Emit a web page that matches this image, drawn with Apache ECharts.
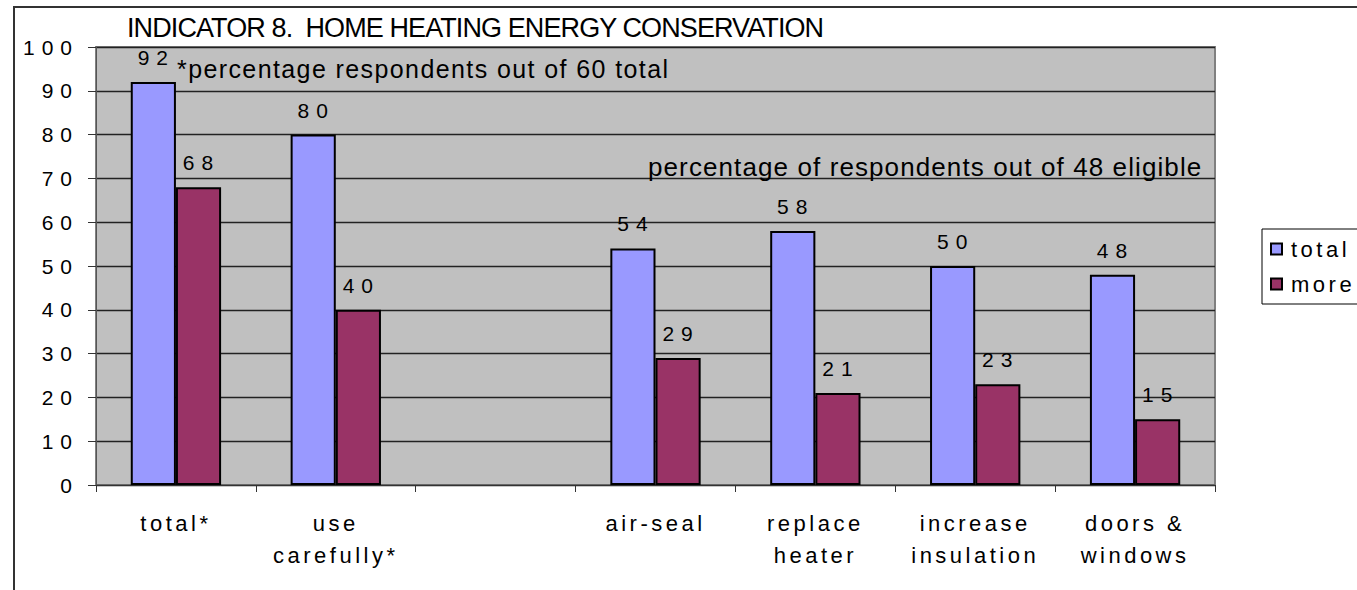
<!DOCTYPE html>
<html>
<head>
<meta charset="utf-8">
<title>Indicator 8. Home Heating Energy Conservation</title>
<script src="https://cdn.jsdelivr.net/npm/echarts@6/dist/echarts.min.js"></script>
<style>
  html, body { margin: 0; padding: 0; background: #fff; }
  #chart { width: 1357px; height: 590px; }
  /* tracking per text role (SVG text honours CSS letter-spacing) */
  #chart text[style*="27px"] { letter-spacing: -0.9px; }  /* title */
  #chart text[style*="25px"] { letter-spacing: 1.4px; }   /* left note */
  #chart text[style*="26px"] { letter-spacing: 1.1px; }   /* right note */
  #chart text[style*="22px"] { letter-spacing: 3.5px; }   /* categories, legend */
  #chart text[style*="21px"] { letter-spacing: 7px; }     /* numbers */
</style>
</head>
<body>
<div id="chart"></div>
<script>
// Categories (the empty slot separates the two groups of questions)
const categories = ['total*', 'use\ncarefully*', '', 'air-seal', 'replace\nheater', 'increase\ninsulation', 'doors &\nwindows'];
// Percentages per category
const totalValues = [92, 80, null, 54, 58, 50, 48];
const moreValues  = [68, 40, null, 29, 21, 23, 15];
const seriesNames = ['total', 'more'];
const yTicks = { min: 0, max: 100, interval: 10 };
const titleText = 'INDICATOR 8.  HOME HEATING ENERGY CONSERVATION';
const noteLeft = '*percentage respondents out of 60 total';
const noteRight = 'percentage of respondents out of 48 eligible';

const FONT = '"Liberation Sans", Arial, sans-serif';

const chart = echarts.init(document.getElementById('chart'), null, { renderer: 'svg' });

const grid = { left: 96, top: 47, width: 1119, height: 438 };

const barLabel = {
  show: true, position: 'top', distance: 14, offset: [3, 0],
  fontFamily: FONT, fontSize: 21, color: '#000'
};

chart.setOption({
  animation: false,
  backgroundColor: '#ffffff',
  textStyle: { fontFamily: FONT },
  title: {
    text: titleText,
    left: 127, top: 14, padding: 0,
    textStyle: { fontFamily: FONT, fontSize: 27, fontWeight: 'normal', color: '#000' }
  },
  legend: {
    orient: 'vertical',
    left: 1262, top: 229,
    padding: [9, 40, 9, 8],
    itemGap: 13,
    itemWidth: 11, itemHeight: 11,
    icon: 'rect',
    borderColor: '#000', borderWidth: 1,
    backgroundColor: '#fff',
    textStyle: { fontFamily: FONT, fontSize: 22, color: '#000', padding: [0, 0, 0, 4] },
    data: seriesNames
  },
  grid: Object.assign({
    show: true,
    backgroundColor: '#c0c0c0',
    borderColor: '#808080',
    borderWidth: 2
  }, grid),
  xAxis: {
    type: 'category',
    data: categories,
    axisLine: { show: true, lineStyle: { color: '#333', width: 1 } },
    axisTick: { show: true, alignWithLabel: false, length: 7, lineStyle: { color: '#333' } },
    axisLabel: {
      interval: 0, margin: 22,
      fontFamily: FONT, fontSize: 22, lineHeight: 32, color: '#000'
    },
    splitLine: { show: false }
  },
  yAxis: {
    type: 'value',
    min: yTicks.min, max: yTicks.max, interval: yTicks.interval,
    axisLine: { show: true, lineStyle: { color: '#555', width: 1 } },
    axisTick: { show: true, length: 8, lineStyle: { color: '#333' } },
    axisLabel: { margin: 17, fontFamily: FONT, fontSize: 21, color: '#000' },
    splitLine: { show: true, lineStyle: { color: '#222', width: 1.3 } }
  },
  series: [
    {
      name: seriesNames[0], type: 'bar', data: totalValues,
      barGap: '0%', barCategoryGap: '43.5%',
      itemStyle: { color: '#9999ff', borderColor: '#000', borderWidth: 2 },
      label: barLabel
    },
    {
      name: seriesNames[1], type: 'bar', data: moreValues,
      barGap: '0%', barCategoryGap: '43.5%',
      itemStyle: { color: '#993366', borderColor: '#000', borderWidth: 2 },
      label: barLabel
    }
  ],
  graphic: [
    {
      type: 'rect', silent: true, z: -1,
      shape: { x: 14, y: 7, width: 1400, height: 700 },
      style: { fill: null, stroke: '#333', lineWidth: 2 }
    },
    {
      type: 'text', left: 177, top: 56, z: 10,
      style: { text: noteLeft, font: '25px ' + FONT, fill: '#000' }
    },
    {
      type: 'text', left: 648, top: 154, z: 10,
      style: { text: noteRight, font: '26px ' + FONT, fill: '#000' }
    }
  ]
});
</script>
</body>
</html>
